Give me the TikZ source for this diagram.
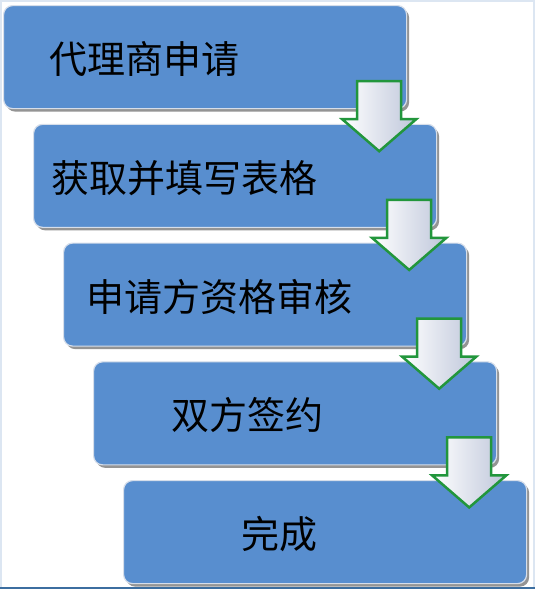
\documentclass[tikz,border=0pt]{standalone}
\usepackage{fontspec}
\newfontfamily\cjk{Noto Sans CJK SC}
\usetikzlibrary{shadows}
\definecolor{boxblue}{RGB}{88,142,207}
\definecolor{boxedge}{RGB}{214,222,234}
\definecolor{arrowgreen}{RGB}{34,150,60}
\definecolor{arrowgray}{RGB}{190,198,218}
\definecolor{framelight}{RGB}{220,230,242}
\definecolor{framedark}{RGB}{60,110,160}
\tikzset{
  stepbox/.style={draw=boxedge, line width=1.2pt, fill=boxblue, rounded corners=9pt,
    minimum width=403pt, minimum height=103pt, inner sep=0pt,
    drop shadow={shadow xshift=2.5pt, shadow yshift=-3pt, fill=black!70, opacity=.6}},
  steptext/.style={font=\cjk\fontsize{38}{40}\selectfont, text=black, inner sep=0pt, anchor=west},
  flowarrow/.style={draw=arrowgreen, line width=2.5pt, line join=miter,
    left color=white, right color=arrowgray}
}
\begin{document}
\begin{tikzpicture}[x=1pt, y=-1pt]
  \useasboundingbox (0,0) rectangle (535,590);
  % frame
  \draw[framelight, line width=1.5pt] (0.75,588) -- (0.75,0.75) -- (534,0.75) -- (534,588);
  \draw[framedark, line width=1.5pt] (0,588) -- (535,588);
  % boxes
  \foreach \i / \txt / \off in {0/代理商申请/46, 1/获取并填写表格/18, 2/申请方资格审核/23, 3/双方签约/78, 4/完成/118} {
    \node[stepbox, anchor=north west] (b\i) at (3+30*\i, 5+118.75*\i) {};
    \node[steptext] (t\i) at ([xshift=\off pt, yshift=-2pt]b\i.west) {\txt};
  }
  % arrows
  \foreach \i in {0,1,2,3} {
    \coordinate (a\i) at ([xshift=-28pt, yshift=-7pt]b\i.south east);
    \draw[flowarrow, shift={(a\i)}] (-22,-35) -- (22,-35) -- (22,3) -- (37,3)
      -- (0,35) -- (-37,3) -- (-22,3) -- cycle;
  }
\end{tikzpicture}
\end{document}
